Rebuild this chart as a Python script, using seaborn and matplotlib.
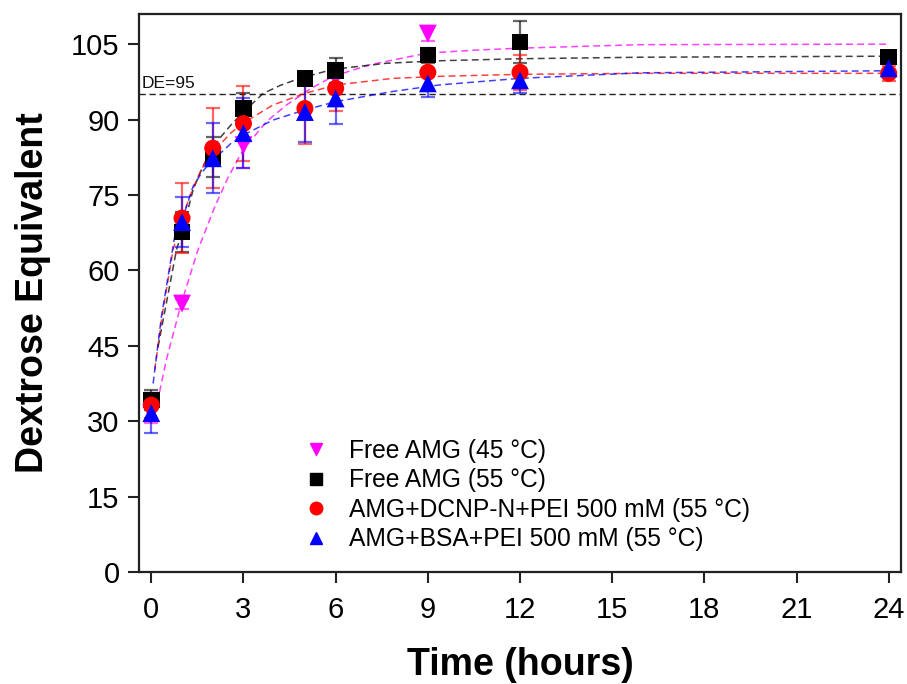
import numpy as np
import pandas as pd
import matplotlib
matplotlib.use("Agg")
import matplotlib.pyplot as plt
import seaborn as sns
from matplotlib.lines import Line2D

# ---------------- data ----------------
series_names = ["Free AMG (45 °C)", "Free AMG (55 °C)",
                "AMG+DCNP-N+PEI 500 mM (55 °C)", "AMG+BSA+PEI 500 mM (55 °C)"]

# measured points
t_m = [0, 1, 3, 6, 9]
de_m = [31.6, 53.4, 84.9, 98.2, 107.1]
err_m = [2.0, 1.0, 4.5, 2.0, 1.5]

t_k = [0, 1, 2, 3, 5, 6, 9, 12, 24]
de_k = [34.2, 67.6, 82.5, 92.2, 98.2, 99.8, 102.8, 105.4, 102.4]
err_k = [2.0, 4.0, 4.0, 3.0, 1.0, 2.5, 1.5, 4.2, 1.0]

t_r = [0, 1, 2, 3, 5, 6, 9, 12, 24]
de_r = [33.2, 70.4, 84.3, 89.2, 92.2, 96.2, 99.4, 99.4, 99.2]
err_r = [2.5, 7.0, 8.0, 7.5, 7.0, 4.5, 3.5, 3.5, 1.5]

t_b = [0, 1, 2, 3, 5, 6, 9, 12, 24]
de_b = [31.6, 69.6, 82.3, 87.3, 91.5, 94.2, 97.2, 97.8, 100.2]
err_b = [4.0, 5.0, 7.0, 7.0, 6.0, 5.0, 2.7, 2.5, 1.5]

# fitted curves
fit_t_m = [0.12, 0.49, 0.98, 1.52, 2.07, 2.5, 2.99, 3.75, 4.4, 5.2, 5.92, 7.11, 8.96, 10.5, 11.99, 15.9, 24.0]
fit_y_m = [31.5, 42.2, 53.5, 64.1, 72.7, 78.5, 84.0, 89.6, 92.9, 96.2, 98.6, 100.9, 103.2, 103.8, 104.2, 104.9, 105.0]

fit_t_k = [0.22, 0.55, 0.82, 1.0, 1.36, 1.65, 1.96, 2.23, 2.6, 3.0, 3.64, 4.2, 4.83, 5.92, 7.65, 9.39, 12.0, 15.9, 23.8]
fit_y_k = [44.8, 55.4, 64.1, 67.6, 76.0, 80.3, 84.0, 86.3, 89.0, 91.5, 95.2, 96.8, 98.2, 100.0, 101.2, 101.7, 102.1, 102.4, 102.6]

fit_t_r = [0.11, 0.38, 0.71, 1.0, 1.25, 1.55, 1.85, 2.23, 2.6, 2.99, 3.96, 4.99, 6.03, 7.87, 9.39, 12.0, 15.9, 23.8]
fit_y_r = [40.2, 52.1, 64.1, 70.2, 74.7, 79.0, 82.6, 85.0, 87.4, 89.3, 92.9, 95.2, 96.9, 98.2, 98.6, 99.0, 99.2, 99.2]

fit_t_b = [0.06, 0.33, 0.76, 1.0, 1.36, 1.65, 1.9, 2.23, 2.6, 2.99, 3.96, 4.99, 6.03, 7.87, 9.39, 12.0, 15.9, 23.8]
fit_y_b = [37.5, 50.8, 66.7, 70.0, 76.7, 79.5, 81.3, 83.2, 85.3, 86.9, 89.9, 91.9, 93.6, 95.6, 96.9, 98.2, 99.3, 99.7]

x_ticks = [0, 3, 6, 9, 12, 15, 18, 21, 24]
y_ticks = [0, 15, 30, 45, 60, 75, 90, 105]
de_threshold = 95

colors = ["#FF00FF", "#000000", "#FF0000", "#0000FF"]
markers = ["v", "s", "o", "^"]
marker_sizes = [165, 140, 150, 165]

frames = []
for name, t, d, e in zip(series_names, [t_m, t_k, t_r, t_b],
                         [de_m, de_k, de_r, de_b], [err_m, err_k, err_r, err_b]):
    frames.append(pd.DataFrame({"series": name, "time": t, "DE": d, "err": e}))
df = pd.concat(frames, ignore_index=True)

fit_frames = []
for name, t, y in zip(series_names, [fit_t_m, fit_t_k, fit_t_r, fit_t_b],
                      [fit_y_m, fit_y_k, fit_y_r, fit_y_b]):
    fit_frames.append(pd.DataFrame({"series": name, "time": t, "DE": y}))
fit_df = pd.concat(fit_frames, ignore_index=True)

# ---------------- plot ----------------
sns.set_theme(style="white")
plt.rcParams["font.family"] = ["Liberation Sans", "DejaVu Sans"]
for key in ["text.color", "axes.labelcolor", "xtick.color", "ytick.color"]:
    plt.rcParams[key] = "black"

fig = plt.figure(figsize=(9.07, 6.84), dpi=100)
ax = fig.add_axes([139 / 907, 1 - 572 / 684, (901 - 139) / 907, (572 - 14) / 684])

pal = dict(zip(series_names, colors))
sns.lineplot(data=fit_df, x="time", y="DE", hue="series", palette=pal,
             ax=ax, legend=False, linewidth=1.1, alpha=0.75, sort=True,
             estimator=None, linestyle=(0, (4.5, 2.7)), zorder=2)

ax.axhline(de_threshold, color="#222222", linestyle=(0, (4.5, 2.7)),
           linewidth=1.0, zorder=1)
ax.text(-0.3, de_threshold + 0.7, "DE=95", fontsize=12.5, ha="left",
        va="bottom", color="#111111")

draw_order = [1, 2, 3, 0]
for i in draw_order:
    name = series_names[i]
    sub = df[df.series == name]
    ax.errorbar(sub.time, sub.DE, yerr=sub.err, fmt="none",
                ecolor=colors[i], alpha=0.6, elinewidth=1.6, capsize=5,
                capthick=1.6, zorder=3 + i * 0.1)
for i in draw_order:
    name = series_names[i]
    sub = df[df.series == name]
    sns.scatterplot(data=sub, x="time", y="DE", color=colors[i],
                    marker=markers[i], s=marker_sizes[i], edgecolor="none",
                    ax=ax, legend=False, zorder=5 + i * 0.1)

ax.set_xlim(-0.4, 24.4)
ax.set_ylim(0, 111)
ax.set_xticks(x_ticks)
ax.set_yticks(y_ticks)
ax.tick_params(axis="both", direction="out", length=8, width=1.5,
               labelsize=21, color="#222222", bottom=True, left=True)
ax.tick_params(axis="y", pad=6)
ax.tick_params(axis="x", pad=9)
for sp in ax.spines.values():
    sp.set_color("#222222")
    sp.set_linewidth(1.6)

ax.set_xlabel("Time (hours)", fontsize=27, fontweight="bold")
ax.set_ylabel("Dextrose Equivalent", fontsize=27, fontweight="bold")
ax.xaxis.set_label_coords(0.5, -0.135)
ax.yaxis.set_label_coords(-0.115, 0.5)

handles = [Line2D([0], [0], marker=m, color=c, linestyle="none", markersize=9)
           for m, c in zip(markers, colors)]
ax.legend(handles, series_names, loc="upper left",
          bbox_to_anchor=(304 / 907, 1 - 439 / 684),
          bbox_transform=fig.transFigure, frameon=False, fontsize=17.7,
          handlelength=1.0, handletextpad=0.85, labelspacing=0.22,
          borderpad=0, borderaxespad=0)

fig.savefig("out.png", dpi=100)
